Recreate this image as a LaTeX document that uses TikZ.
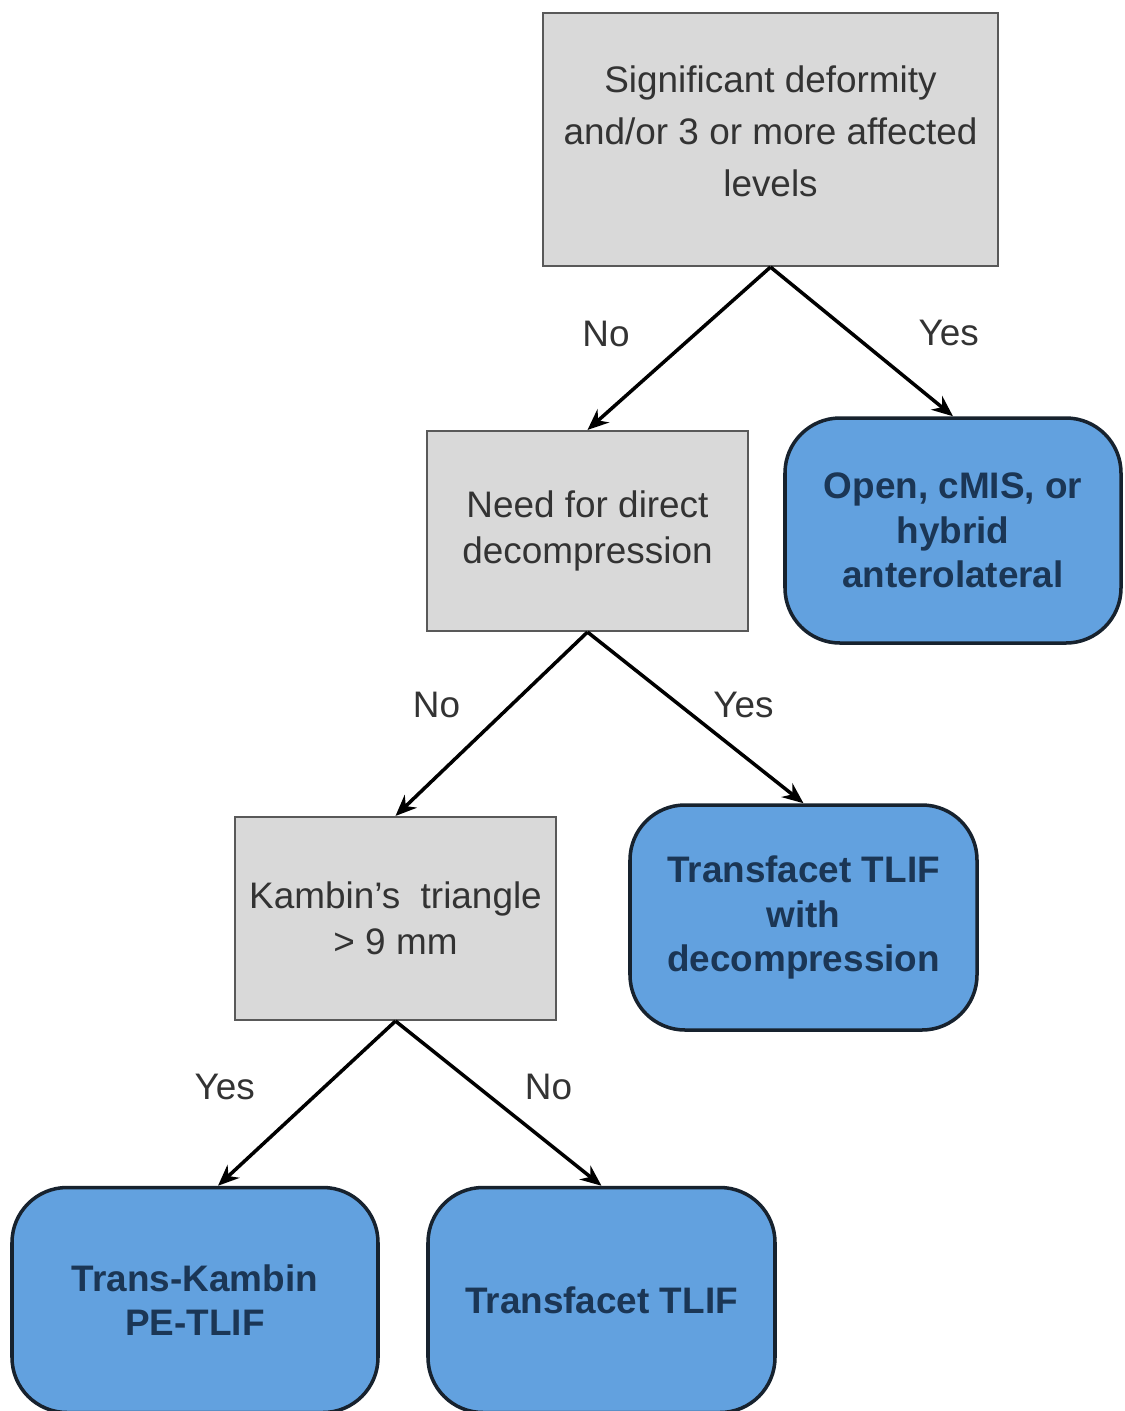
\documentclass[tikz,border=0pt]{standalone}
\usepackage{fontspec}
\setmainfont{Liberation Sans}
\usetikzlibrary{arrows.meta}
\definecolor{qgray}{HTML}{D9D9D9}
\definecolor{qtext}{HTML}{333333}
\definecolor{ablue}{HTML}{62A1DF}
\definecolor{anavy}{HTML}{1B3655}
\definecolor{aedge}{HTML}{17222E}
\begin{document}
\begin{tikzpicture}[>={Stealth[length=12pt,width=10pt]},
  question/.style={draw=black!65,line width=1.2pt,fill=qgray,text=qtext,
    align=center,inner sep=0pt,font=\fontsize{21}{26}\selectfont},
  answer/.style={draw=aedge,line width=2pt,fill=ablue,text=anavy,
    rounded corners=1.1cm,align=center,inner sep=0pt,minimum height=4.5cm,
    font=\fontsize{21}{25.3}\selectfont\bfseries},
  choice/.style={text=qtext,font=\fontsize{21}{25}\selectfont},
  link/.style={->,line width=2pt}]
  \fill[white] (0,0) rectangle (22.5,-28.22);
  \useasboundingbox (0,0) rectangle (22.5,-28.22);
  % questions
  \node[question,minimum width=9.1cm,minimum height=5.06cm,
    font=\fontsize{21}{29.5}\selectfont] (deform) at (15.41,-2.79)
    {Significant deformity\\ and/or 3 or more affected\\ levels\\[-20pt]};
  \node[question,minimum width=6.42cm,minimum height=4cm] (decomp) at (11.75,-10.62)
    {Need for direct\\ decompression};
  \node[question,minimum width=6.42cm,minimum height=4.06cm] (kambin) at (7.91,-18.37)
    {Kambin’s~ triangle\\ > 9 mm};
  % answers
  \node[answer,minimum width=6.72cm] (open) at (19.06,-10.61)
    {Open, cMIS, or\\ hybrid\\ anterolateral};
  \node[answer,minimum width=6.94cm] (tfdec) at (16.07,-18.35)
    {Transfacet TLIF\\ with\\ decompression};
  \node[answer,minimum width=7.32cm] (tkpe) at (3.9,-26.0)
    {Trans-Kambin\\ PE-TLIF};
  \node[answer,minimum width=6.94cm] (tftlif) at (12.03,-26.0)
    {Transfacet TLIF};
  % connectors
  \draw[link] (deform.south) -- (decomp.north)
    node[midway,choice,shift={(-1.46,0.3)}] {No};
  \draw[link] (deform.south) -- (open.north)
    node[midway,choice,shift={(1.74,0.18)}] {Yes};
  \draw[link] (decomp.south) -- (kambin.north)
    node[midway,choice,shift={(-1.1,0.38)}] {No};
  \draw[link] (decomp.south) -- (tfdec.north)
    node[midway,choice,shift={(0.96,0.26)}] {Yes};
  \draw[link] (kambin.south) -- ([xshift=0.46cm]tkpe.north)
    node[midway,choice,shift={(-1.64,0.32)}] {Yes};
  \draw[link] (kambin.south) -- (tftlif.north)
    node[midway,choice,shift={(1.0,0.32)}] {No};
\end{tikzpicture}
\end{document}
